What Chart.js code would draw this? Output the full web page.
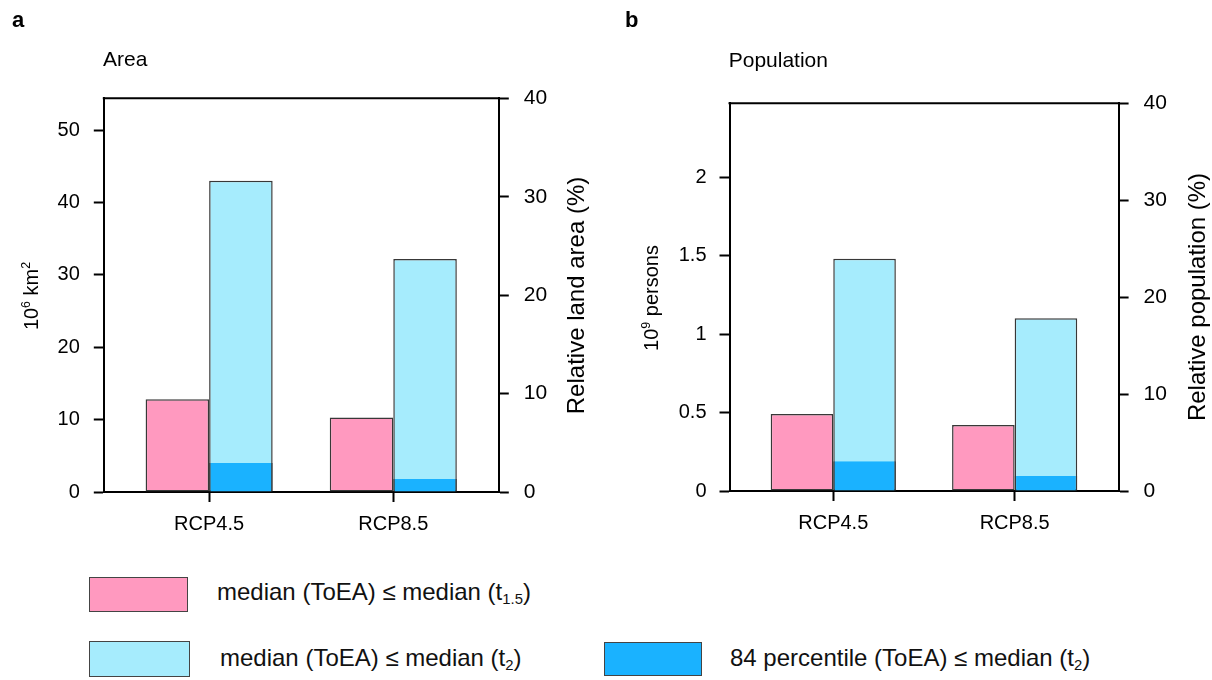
<!DOCTYPE html>
<html>
<head>
<meta charset="utf-8">
<script src="https://cdn.jsdelivr.net/npm/chart.js@4.4.0/dist/chart.umd.min.js"></script>
<style>
  body { margin: 0; background: #fff; font-family: "Liberation Sans", Arial, Helvetica, sans-serif; }
  #wrap { position: relative; width: 1212px; height: 680px; overflow: hidden; }
  canvas { position: absolute; top: 0; }
  .box { position: absolute; border: 1.5px solid #444; box-sizing: border-box; }
  .lab { position: absolute; font-size: 24px; line-height: 1; color: #111; white-space: nowrap; }
  .lab sub { font-size: 0.62em; vertical-align: -0.3em; line-height: 0; }
</style>
</head>
<body>
<div id="wrap">
  <canvas id="areaChart" width="600" height="560" style="left:0"></canvas>
  <canvas id="popChart" width="612" height="560" style="left:600px"></canvas>

  <div class="box" style="left:89px;top:577px;width:99px;height:35px;background:#ff99bf"></div>
  <div class="lab" style="left:217px;top:580px">median (ToEA) ≤ median (t<sub>1.5</sub>)</div>
  <div class="box" style="left:89px;top:641px;width:101px;height:36px;background:#a6ecfd"></div>
  <div class="lab" style="left:220px;top:646px">median (ToEA) ≤ median (t<sub>2</sub>)</div>
  <div class="box" style="left:604px;top:642px;width:98px;height:34px;background:#1ab2ff"></div>
  <div class="lab" style="left:730px;top:646px">84 percentile (ToEA) ≤ median (t<sub>2</sub>)</div>
</div>

<script>
const categories = ['RCP4.5', 'RCP8.5'];

// area, 10^6 km2
const areaMedT15 = [12.8, 10.3];
const areaMedT2 = [43.0, 32.2];
const areaP84T2 = [4.0, 1.8];

// population, 10^9 persons
const popMedT15 = [0.49, 0.42];
const popMedT2 = [1.48, 1.10];
const popP84T2 = [0.19, 0.095];

const areaTicks = [0, 10, 20, 30, 40, 50];
const popTicks = [0, 0.5, 1, 1.5, 2];
const relTicks = [0, 10, 20, 30, 40];
const areaMax = 54.4;  // level with 40 % on the right axis
const popMax = 2.47;
const relMax = 40;

const FONT = '"Liberation Sans", Arial, Helvetica, sans-serif';
const PINK = '#ff99bf';
const LIGHT = '#a6ecfd';
const DARK = '#1ab2ff';
const EDGE = '#383838';

const pts = (vals) => vals.map((v, i) => ({ x: i + 1, y: v }));

function drawRich(ctx, parts, size, x, y, rot) {
    ctx.save();
    ctx.translate(x, y);
    ctx.rotate(rot);
    ctx.textAlign = 'left';
    ctx.textBaseline = 'alphabetic';
    let w = 0;
    const items = parts.map(p => {
        const s = p.sup ? size * 0.62 : size;
        ctx.font = s + 'px ' + FONT;
        const m = ctx.measureText(p.t).width;
        w += m;
        return { t: p.t, s: s, m: m, sup: p.sup };
    });
    let cx = -w / 2;
    const base = size * 0.36;
    items.forEach(p => {
        ctx.font = p.s + 'px ' + FONT;
        ctx.fillText(p.t, cx, base - (p.sup ? size * 0.42 : 0));
        cx += p.m;
    });
    ctx.restore();
}

const panelText = {
    id: 'panelText',
    afterDraw(chart, args, o) {
        const { ctx, chartArea: a } = chart;
        ctx.save();
        ctx.strokeStyle = '#000';
        ctx.lineWidth = 2;
        ctx.beginPath();
        ctx.moveTo(a.left - 1, a.top);
        ctx.lineTo(a.right + 1, a.top);
        ctx.stroke();

        ctx.fillStyle = '#000';
        ctx.textAlign = 'left';
        ctx.textBaseline = 'alphabetic';
        ctx.font = 'bold 22px ' + FONT;
        ctx.fillText(o.letter, o.letterX, 27);
        ctx.font = '21px ' + FONT;
        ctx.fillText(o.title, o.titleX, o.titleY);
        drawRich(ctx, o.yTitle, 20, o.yTitleX, o.yTitleY, -Math.PI / 2);
        drawRich(ctx, [{ t: o.y1Title }], 24, o.y1TitleX, o.y1TitleY, -Math.PI / 2);
        ctx.restore();
    }
};

const axisLine = { display: true, color: '#000', width: 2 };
const tickGrid = { drawOnChartArea: false, drawTicks: true, tickLength: 10, tickWidth: 2, tickColor: '#000', offset: false };

function makeChart(id, lay, medT15, medT2, p84T2, leftTicks, leftMax, text) {
    const canvas = document.getElementById(id);
    return new Chart(canvas.getContext('2d'), {
        type: 'bar',
        data: {
            datasets: [
                {
                    label: 'median (ToEA) ≤ median (t1.5)',
                    data: pts(medT15), stack: 'p',
                    backgroundColor: PINK, borderColor: EDGE, borderWidth: 1.5, borderSkipped: false
                },
                {
                    label: '84 percentile (ToEA) ≤ median (t2)',
                    data: pts(p84T2), stack: 'b',
                    backgroundColor: DARK, borderColor: EDGE,
                    borderWidth: { left: 1.5, right: 1.5, top: 0, bottom: 0 }, borderSkipped: false
                },
                {
                    label: 'median (ToEA) ≤ median (t2)',
                    data: pts(medT2), stack: 'b',
                    backgroundColor: LIGHT, borderColor: EDGE, borderWidth: 1.5, borderSkipped: false
                }
            ]
        },
        options: {
            responsive: false,
            animation: false,
            categoryPercentage: 0.69,
            barPercentage: 1,
            layout: { padding: { top: lay.top, left: 0, right: 0, bottom: 0 } },
            plugins: {
                legend: { display: false },
                tooltip: { enabled: false },
                panelText: text
            },
            scales: {
                x: {
                    type: 'linear', offset: false, min: 1 - 0.572, max: 2 + 0.573, z: 1,
                    afterBuildTicks: s => { s.ticks = categories.map((c, i) => ({ value: i + 1 })); },
                    afterFit: s => { s.height = canvas.height - lay.bottom; },
                    ticks: {
                        callback: (v, i) => categories[i],
                        font: { size: 20, family: FONT }, color: '#000', padding: 10,
                        autoSkip: false, maxRotation: 0
                    },
                    grid: tickGrid,
                    border: axisLine
                },
                y: {
                    type: 'linear', position: 'left', stacked: false, min: 0, max: leftMax, z: 1,
                    afterBuildTicks: s => { s.ticks = leftTicks.map(v => ({ value: v })); },
                    afterFit: s => { s.width = lay.left; },
                    ticks: { callback: v => String(v), font: { size: 20, family: FONT }, color: '#000', padding: lay.lpad },
                    grid: tickGrid,
                    border: axisLine
                },
                y1: {
                    type: 'linear', position: 'right', min: 0, max: relMax, z: 1,
                    afterBuildTicks: s => { s.ticks = relTicks.map(v => ({ value: v })); },
                    afterFit: s => { s.width = canvas.width - lay.right; },
                    ticks: { callback: v => String(v), font: { size: 21, family: FONT }, color: '#000', padding: 15 },
                    grid: tickGrid,
                    border: axisLine
                }
            }
        },
        plugins: [panelText]
    });
}

makeChart('areaChart',
    { top: 98.3, bottom: 492, left: 103.8, right: 498.8, lpad: 14 },
    areaMedT15, areaMedT2, areaP84T2, areaTicks, areaMax,
    {
        letter: 'a', letterX: 12, title: 'Area', titleX: 103, titleY: 66,
        yTitle: [{ t: '10' }, { t: '6', sup: true }, { t: ' km' }, { t: '2', sup: true }],
        yTitleX: 31, yTitleY: 296,
        y1Title: 'Relative land area (%)', y1TitleX: 575, y1TitleY: 295.5
    });

makeChart('popChart',
    { top: 103.3, bottom: 491, left: 129.5, right: 518.6, lpad: 13 },
    popMedT15, popMedT2, popP84T2, popTicks, popMax,
    {
        letter: 'b', letterX: 25, title: 'Population', titleX: 128.7, titleY: 67,
        yTitle: [{ t: '10' }, { t: '9', sup: true }, { t: ' persons' }],
        yTitleX: 51, yTitleY: 298,
        y1Title: 'Relative population (%)', y1TitleX: 596, y1TitleY: 297
    });
</script>
</body>
</html>
